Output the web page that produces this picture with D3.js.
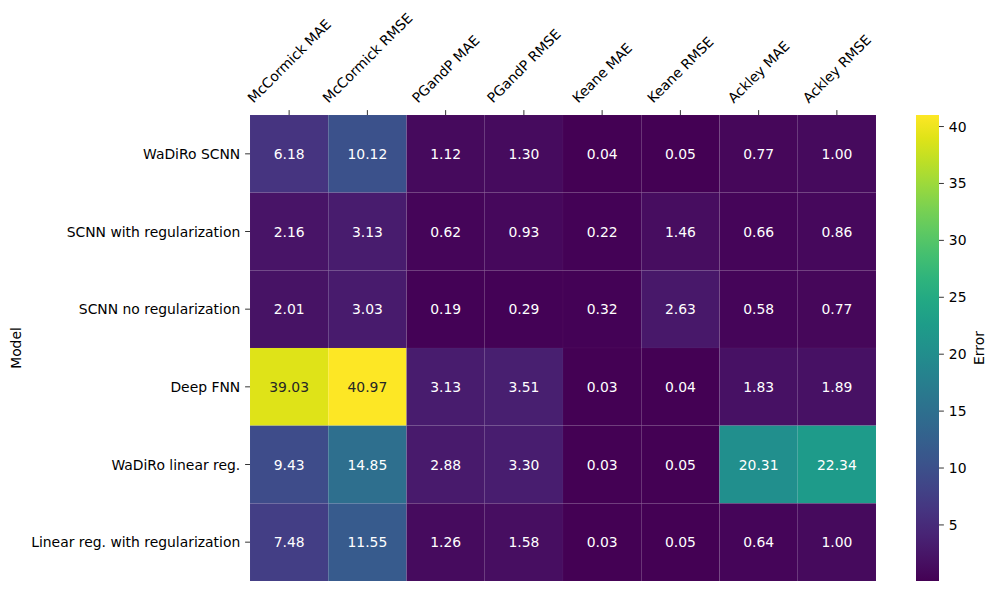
<!DOCTYPE html>
<html>
<head>
<meta charset="utf-8">
<script src="https://cdn.jsdelivr.net/npm/d3@7"></script>
<style>
  html, body { margin: 0; padding: 0; background: #fff; }
  svg { display: block; font-family: "DejaVu Sans", sans-serif; }
</style>
</head>
<body>
<svg id="chart" width="996" height="592"></svg>
<script>
const columns = ["McCormick MAE", "McCormick RMSE", "PGandP MAE", "PGandP RMSE", "Keane MAE", "Keane RMSE", "Ackley MAE", "Ackley RMSE"];
const models = ["WaDiRo SCNN", "SCNN with regularization", "SCNN no regularization", "Deep FNN", "WaDiRo linear reg.", "Linear reg. with regularization"];
const valWaDiRoSCNN = [6.18, 10.12, 1.12, 1.30, 0.04, 0.05, 0.77, 1.00];
const valSCNNReg = [2.16, 3.13, 0.62, 0.93, 0.22, 1.46, 0.66, 0.86];
const valSCNNNoReg = [2.01, 3.03, 0.19, 0.29, 0.32, 2.63, 0.58, 0.77];
const valDeepFNN = [39.03, 40.97, 3.13, 3.51, 0.03, 0.04, 1.83, 1.89];
const valWaDiRoLin = [9.43, 14.85, 2.88, 3.30, 0.03, 0.05, 20.31, 22.34];
const valLinReg = [7.48, 11.55, 1.26, 1.58, 0.03, 0.05, 0.64, 1.00];
const colorbarTicks = [5, 10, 15, 20, 25, 30, 35, 40];

const matrix = [valWaDiRoSCNN, valSCNNReg, valSCNNNoReg, valDeepFNN, valWaDiRoLin, valLinReg];
const cells = [];
matrix.forEach((row, i) => row.forEach((v, j) => cells.push({ model: models[i], col: columns[j], v })));

const svg = d3.select("#chart");
const FS = 13.9;
const L = 250, R = 876, T = 115, B = 581;

const allVals = cells.map(d => d.v);
const vmin = d3.min(allVals), vmax = d3.max(allVals);
const color = d3.scaleSequential(d3.interpolateViridis).domain([vmin, vmax]);

const x = d3.scaleBand().domain(columns).range([L, R]).padding(0);
const y = d3.scaleBand().domain(models).range([T, B]).padding(0);

// cells
svg.append("g").selectAll("rect").data(cells).join("rect")
  .attr("x", d => x(d.col)).attr("y", d => y(d.model))
  .attr("width", x.bandwidth()).attr("height", y.bandwidth())
  .attr("fill", d => color(d.v))
  .attr("stroke", "rgba(255,255,255,0.035)").attr("stroke-width", 0.8);

function lum(c) {
  const rgb = d3.rgb(c);
  const f = v => { v /= 255; return v <= 0.03928 ? v / 12.92 : Math.pow((v + 0.055) / 1.055, 2.4); };
  return 0.2126 * f(rgb.r) + 0.7152 * f(rgb.g) + 0.0722 * f(rgb.b);
}

svg.append("g").selectAll("text").data(cells).join("text")
  .attr("x", d => x(d.col) + x.bandwidth() / 2)
  .attr("y", d => y(d.model) + y.bandwidth() / 2)
  .attr("text-anchor", "middle").attr("dominant-baseline", "central")
  .attr("font-size", FS)
  .attr("fill", d => lum(color(d.v)) > 0.408 ? "#262626" : "#ffffff")
  .text(d => d.v.toFixed(2));

// top x axis
const xAxis = svg.append("g").attr("transform", `translate(0,${T})`)
  .call(d3.axisTop(x).tickSize(4.9).tickPadding(4.9));
xAxis.select(".domain").remove();
xAxis.selectAll(".tick line").attr("stroke", "#000").attr("stroke-width", 0.8);
xAxis.selectAll(".tick text").each(function() {
  const t = d3.select(this);
  t.attr("font-size", FS).attr("font-family", "DejaVu Sans").attr("fill", "#000");
  const w = this.getComputedTextLength();
  const h = FS * 1.0;
  const half = (w + h) / (2 * Math.SQRT2);
  t.attr("text-anchor", "middle").attr("dominant-baseline", "central")
   .attr("x", 0).attr("y", 0).attr("dy", null)
   .attr("transform", `translate(0,${-4.9 - 4.9 - half}) rotate(-45)`);
});

// left y axis
const yAxis = svg.append("g").attr("transform", `translate(${L},0)`)
  .call(d3.axisLeft(y).tickSize(4.9).tickPadding(4.9));
yAxis.select(".domain").remove();
yAxis.selectAll(".tick line").attr("stroke", "#000").attr("stroke-width", 0.8);
yAxis.selectAll(".tick text").attr("font-size", FS).attr("font-family", "DejaVu Sans").attr("fill", "#000")
  .attr("dy", null).attr("dominant-baseline", "central");

svg.append("text").attr("transform", `translate(16,${(T + B) / 2}) rotate(-90)`)
  .attr("text-anchor", "middle").attr("dominant-baseline", "central")
  .attr("font-size", FS).text("Model");

// colorbar
const CL = 916, CW = 23;
const cy = d3.scaleLinear().domain([vmin, vmax]).range([B, T]);
const defs = svg.append("defs");
const grad = defs.append("linearGradient").attr("id", "cbgrad")
  .attr("x1", 0).attr("y1", 1).attr("x2", 0).attr("y2", 0);
d3.range(0, 1.0001, 0.05).forEach(t => {
  grad.append("stop").attr("offset", t).attr("stop-color", d3.interpolateViridis(t));
});
svg.append("rect").attr("x", CL).attr("y", T).attr("width", CW).attr("height", B - T)
  .attr("fill", "url(#cbgrad)");
const cAxis = svg.append("g").attr("transform", `translate(${CL + CW},0)`)
  .call(d3.axisRight(cy).tickValues(colorbarTicks).tickSize(4.9).tickPadding(4.9));
cAxis.select(".domain").remove();
cAxis.selectAll(".tick line").attr("stroke", "#000").attr("stroke-width", 0.8);
cAxis.selectAll(".tick text").attr("font-size", FS).attr("font-family", "DejaVu Sans").attr("fill", "#000")
  .attr("dy", null).attr("dominant-baseline", "central");

svg.append("text").attr("transform", `translate(979,${(T + B) / 2}) rotate(-90)`)
  .attr("text-anchor", "middle").attr("dominant-baseline", "central")
  .attr("font-size", FS).text("Error");
</script>
</body>
</html>
